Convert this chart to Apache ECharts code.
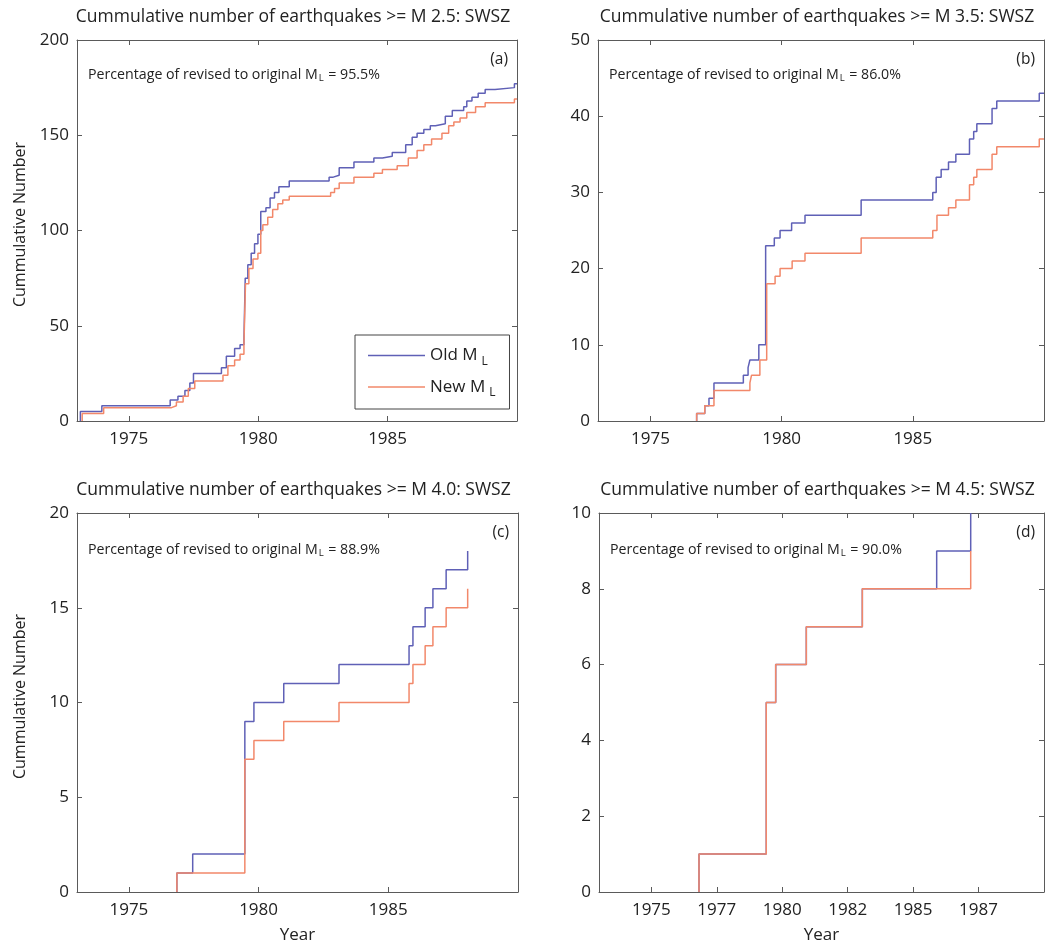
<!DOCTYPE html>
<html>
<head>
<meta charset="utf-8">
<title>Cummulative number of earthquakes - SWSZ</title>
<script src="https://cdn.jsdelivr.net/npm/echarts@6.0.0/dist/echarts.min.js"></script>
<style>
html, body { margin: 0; padding: 0; background: #fff; }
#chart { width: 1046px; height: 945px; }
</style>
</head>
<body>
<div id="chart"></div>
<script>
// panel settings
var magnitudes = ['2.5', '3.5', '4.0', '4.5'];
var panelTags = ['(a)', '(b)', '(c)', '(d)'];
var percentages = ['95.5%', '86.0%', '88.9%', '90.0%'];
var yMax = [200, 50, 20, 10];
var yStep = [50, 10, 5, 2];
var yearTicks = [1975, 1980, 1985];
var yearTicksD = [1975, 1977.5, 1980, 1982.5, 1985, 1987.5];

// [year, cumulative number]
var oldA = [[1973.13, 0], [1973.13, 5], [1973.96, 8], [1976.6, 11], [1976.9, 13], [1977.17, 16], [1977.36, 20],
    [1977.5, 25], [1978.58, 28], [1978.77, 34], [1979.09, 38], [1979.3, 40], [1979.45, 43], [1979.5, 75],
    [1979.6, 82], [1979.73, 88], [1979.86, 93], [1979.99, 98], [1980.1, 110], [1980.3, 112], [1980.46, 117],
    [1980.63, 120], [1980.8, 123], [1981.2, 126], [1982.74, 128], [1982.9, 129], [1983.13, 133], [1983.7, 136],
    [1984.47, 138], [1984.8, 139], [1985.18, 141], [1985.7, 145], [1985.95, 149], [1986.14, 151], [1986.4, 153],
    [1986.65, 155], [1986.85, 156], [1987.23, 160], [1987.5, 163], [1987.94, 165], [1988.06, 168], [1988.26, 170],
    [1988.5, 172], [1988.77, 174], [1989.15, 175], [1989.9, 177], [1990, 177]];
var newA = [[1973.2, 0], [1973.2, 4], [1974.03, 7], [1976.65, 8], [1976.84, 10], [1977.1, 13], [1977.3, 17],
    [1977.55, 21], [1978.64, 24], [1978.83, 29], [1979.09, 32], [1979.3, 35], [1979.45, 40], [1979.51, 72],
    [1979.64, 80], [1979.8, 85], [1979.99, 88], [1980.1, 100], [1980.18, 103], [1980.37, 107], [1980.56, 111],
    [1980.76, 114], [1980.95, 116], [1981.2, 118], [1982.8, 120], [1982.95, 122], [1983.13, 125], [1983.7, 128],
    [1984.47, 130], [1984.8, 132], [1985.37, 134], [1985.8, 138], [1986.14, 142], [1986.4, 145], [1986.7, 148],
    [1987.1, 151], [1987.36, 155], [1987.56, 157], [1987.8, 159], [1988.06, 162], [1988.4, 165], [1988.77, 167],
    [1989.9, 169], [1990, 169]];
var oldB = [[1976.76, 0], [1976.76, 1], [1977.07, 2], [1977.23, 3], [1977.42, 5], [1978.54, 6], [1978.72, 7],
    [1978.79, 8], [1979.13, 10], [1979.39, 23], [1979.72, 24], [1979.94, 25], [1980.38, 26], [1980.89, 27],
    [1983.03, 29], [1985.76, 30], [1985.89, 32], [1986.08, 33], [1986.36, 34], [1986.64, 35], [1987.16, 37],
    [1987.32, 38], [1987.44, 39], [1988.02, 41], [1988.2, 42], [1989.82, 43], [1990, 43]];
var newB = [[1976.76, 0], [1976.76, 1], [1977.07, 2], [1977.42, 4], [1978.79, 5], [1978.85, 6], [1979.17, 8],
    [1979.43, 18], [1979.75, 19], [1979.94, 20], [1980.4, 21], [1980.89, 22], [1983.03, 24], [1985.76, 25],
    [1985.92, 27], [1986.36, 28], [1986.64, 29], [1987.16, 31], [1987.32, 32], [1987.44, 33], [1988.02, 35],
    [1988.2, 36], [1989.82, 37], [1990, 37]];
var oldC = [[1976.85, 0], [1976.85, 1], [1977.46, 2], [1979.47, 9], [1979.82, 10], [1980.97, 11], [1983.1, 12],
    [1985.8, 13], [1985.95, 14], [1986.42, 15], [1986.72, 16], [1987.23, 17], [1988.06, 18]];
var newC = [[1976.85, 0], [1976.85, 1], [1979.47, 7], [1979.82, 8], [1980.97, 9], [1983.1, 10], [1985.8, 11],
    [1985.95, 12], [1986.42, 13], [1986.72, 14], [1987.23, 15], [1988.06, 16]];
var oldD = [[1976.82, 0], [1976.82, 1], [1979.39, 5], [1979.75, 6], [1980.92, 7], [1983.06, 8], [1985.9, 9],
    [1987.2, 10]];
var newD = [[1976.82, 0], [1976.82, 1], [1979.39, 5], [1979.75, 6], [1980.92, 7], [1983.06, 8], [1987.2, 9]];

var oldSets = [oldA, oldB, oldC, oldD];
var newSets = [newA, newB, newC, newD];

var FONT = 'Open Sans';
var BLUE = '#5f60b6';
var ORANGE = '#f2886a';
var FRAME = '#5a5a5a';

var grids = [
    {left: 77, top: 40, width: 440, height: 381},
    {left: 598, top: 40, width: 446, height: 381},
    {left: 77, top: 513, width: 441, height: 380},
    {left: 599, top: 513, width: 445, height: 380}
];

var xAxes = [], yAxes = [], series = [], titles = [];
var subRich = {
    t: {fontFamily: FONT, fontSize: 14.2, fontWeight: 'normal', color: '#222'},
    s: {fontFamily: FONT, fontSize: 9.5, fontWeight: 'normal', color: '#222', padding: [7, 1, 0, 1]}
};

grids.forEach(function (g, i) {
    var ticks = i === 3 ? yearTicksD : yearTicks;
    var line = {show: true, onZero: false, lineStyle: {color: FRAME, width: 1}};
    var tick = {show: true, inside: true, length: 5, lineStyle: {color: FRAME}};
    xAxes.push({
        gridIndex: i, type: 'value', min: 1973, max: 1990, position: 'bottom',
        axisLine: line,
        axisTick: Object.assign({customValues: ticks}, tick),
        axisLabel: {
            customValues: ticks, margin: 10, fontFamily: FONT, fontSize: 17, color: '#222',
            formatter: function (v) { return String(Math.floor(v)); }
        },
        splitLine: {show: false},
        name: i >= 2 ? 'Year' : '', nameLocation: 'middle', nameGap: 35,
        nameTextStyle: {fontFamily: FONT, fontSize: 17, color: '#222'}
    });
    xAxes.push({
        gridIndex: i, type: 'value', min: 1973, max: 1990, position: 'top',
        axisLine: line,
        axisTick: Object.assign({customValues: ticks}, tick),
        axisLabel: {show: false}, splitLine: {show: false}
    });
    yAxes.push({
        gridIndex: i, type: 'value', min: 0, max: yMax[i], interval: yStep[i], position: 'left',
        axisLine: line, axisTick: tick,
        axisLabel: {margin: 8, fontFamily: FONT, fontSize: 17, color: '#222'},
        splitLine: {show: false},
        name: (i === 0 || i === 2) ? 'Cummulative Number' : '', nameLocation: 'middle', nameGap: 49,
        nameTextStyle: {fontFamily: FONT, fontSize: 16, color: '#222', padding: [0, 0, 0, 12]}
    });
    yAxes.push({
        gridIndex: i, type: 'value', min: 0, max: yMax[i], interval: yStep[i], position: 'right',
        axisLine: line, axisTick: tick, axisLabel: {show: false}, splitLine: {show: false}
    });

    series.push({
        name: 'Old', type: 'line', step: 'end', xAxisIndex: 2 * i, yAxisIndex: 2 * i,
        data: oldSets[i], symbol: 'none', lineStyle: {color: BLUE, width: 1.5}, itemStyle: {color: BLUE},
        clip: true, animation: false
    });
    series.push({
        name: 'New', type: 'line', step: 'end', xAxisIndex: 2 * i, yAxisIndex: 2 * i,
        data: newSets[i], symbol: 'none', lineStyle: {color: ORANGE, width: 1.5}, itemStyle: {color: ORANGE},
        clip: true, animation: false
    });

    titles.push({
        text: 'Cummulative number of earthquakes >= M ' + magnitudes[i] + ': SWSZ',
        left: g.left + g.width / 2 - 4, top: g.top - 32, textAlign: 'center', padding: 0,
        textStyle: {fontFamily: FONT, fontSize: 17.5, fontWeight: 'normal', color: '#222'}
    });
    titles.push({
        text: '{t|Percentage of revised to original M}{s|L}{t| = ' + percentages[i] + '}',
        left: g.left + 11, top: g.top + (i < 2 ? 26 : 28), padding: 0,
        textStyle: {fontWeight: 'normal', rich: subRich}
    });
    titles.push({
        text: panelTags[i],
        left: g.left + g.width - 9, top: g.top + 12, textAlign: 'right', padding: 0,
        textStyle: {fontFamily: FONT, fontSize: 15.5, fontWeight: 'normal', color: '#222'}
    });
});

var chart = echarts.init(document.getElementById('chart'));
chart.setOption({
    backgroundColor: '#fff',
    animation: false,
    title: titles,
    grid: grids,
    xAxis: xAxes,
    yAxis: yAxes,
    legend: {
        data: ['Old', 'New'], orient: 'vertical', left: 355, top: 335,
        icon: 'rect', itemWidth: 57, itemHeight: 1.5, itemGap: 11,
        padding: [12, 14, 10, 13],
        borderColor: '#444', borderWidth: 1, backgroundColor: '#fff',
        selectedMode: false,
        formatter: function (name) { return '{t|' + name + ' M}{s|L}'; },
        textStyle: {
            rich: {
                t: {fontFamily: FONT, fontSize: 17, color: '#222'},
                s: {fontFamily: FONT, fontSize: 12, color: '#222', padding: [12, 0, 0, 4]}
            }
        }
    },
    series: series
});
</script>
</body>
</html>
